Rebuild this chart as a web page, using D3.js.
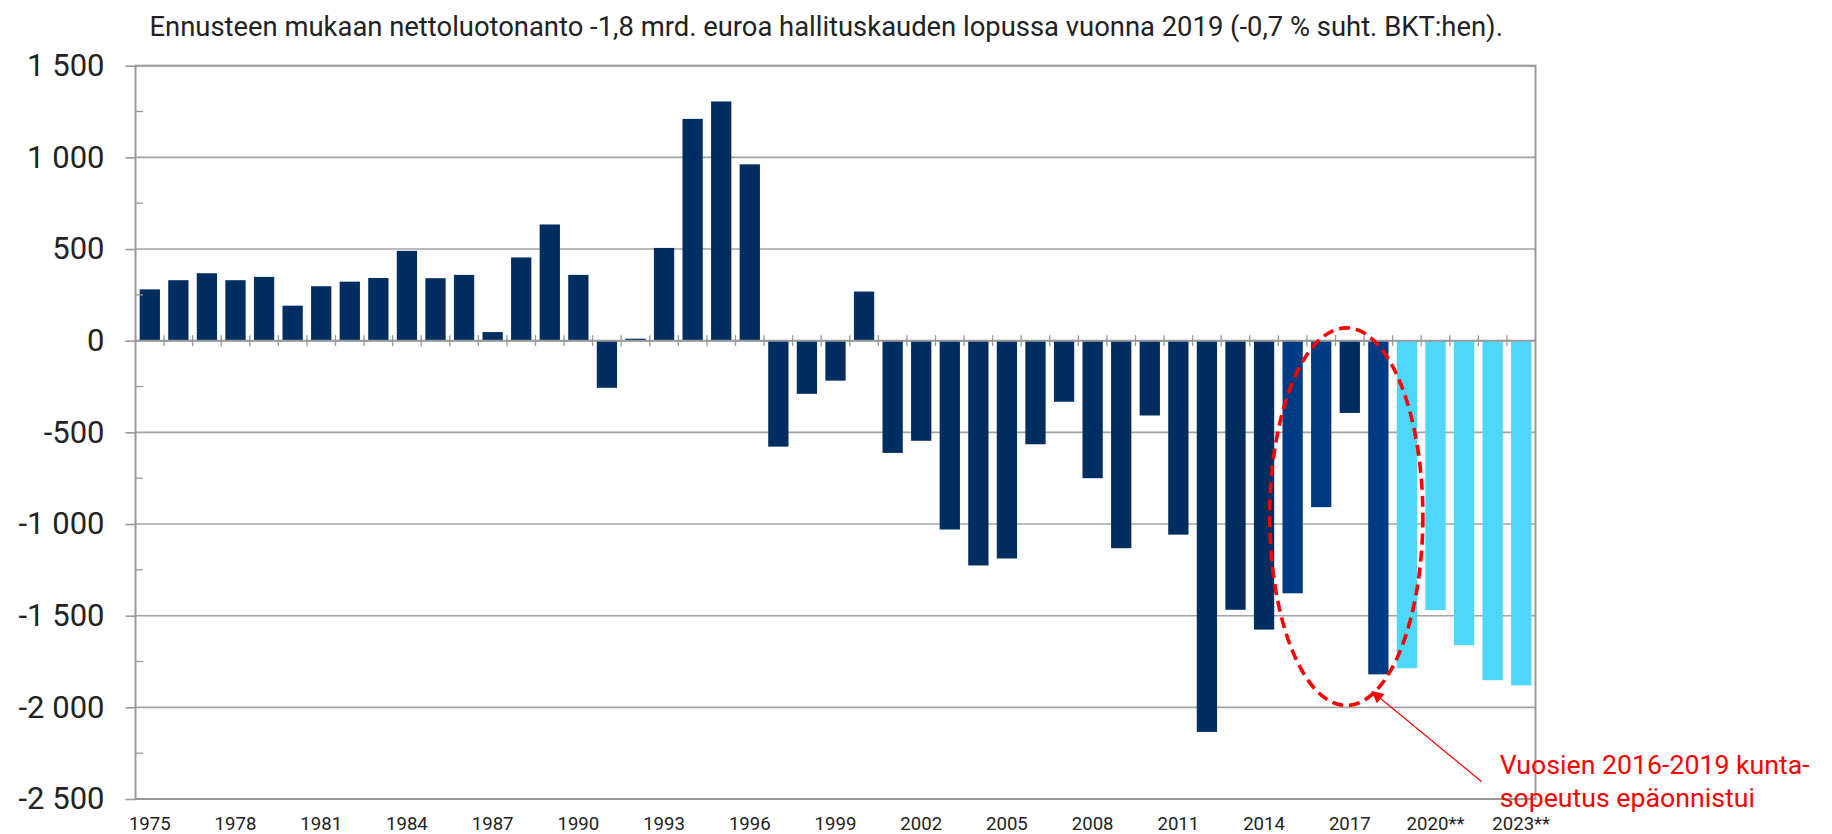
<!DOCTYPE html>
<html>
<head>
<meta charset="utf-8">
<script src="https://cdn.jsdelivr.net/npm/d3@7"></script>
<style>
    body { margin: 0; background: #fff; }
    text { font-family: Roboto, "Noto Sans", sans-serif; }
</style>
</head>
<body>
<script>

const years = [
    '1975', '1976', '1977', '1978', '1979', '1980', '1981', '1982', '1983', '1984',
    '1985', '1986', '1987', '1988', '1989', '1990', '1991', '1992', '1993', '1994',
    '1995', '1996', '1997', '1998', '1999', '2000', '2001', '2002', '2003', '2004',
    '2005', '2006', '2007', '2008', '2009', '2010', '2011', '2012', '2013', '2014',
    '2015', '2016', '2017', '2018', '2019', '2020', '2021', '2022', '2023'
];

// nettoluotonanto, milj. euroa
const values = [
    280, 330, 368, 330, 348, 191, 297, 322, 342, 490,
    341, 359, 47, 454, 634, 359, -257, 11, 506, 1210,
    1305, 962, -578, -290, -218, 268, -612, -546, -1030, -1226,
    -1188, -565, -333, -750, -1132, -408, -1058, -2134, -1468, -1576,
    -1378, -908, -394, -1820, -1787, -1470, -1661, -1852, -1880
];

const highlighted = ['2015', '2016', '2018'];
const forecast = ['2019', '2020', '2021', '2022', '2023'];

const yTicks = [1500, 1000, 500, 0, -500, -1000, -1500, -2000, -2500];
const yMinorTicks = [1250, 750, 250, -250, -750, -1250, -1750, -2250];

const xTickYears = ['1975', '1978', '1981', '1984', '1987', '1990', '1993', '1996',
    '1999', '2002', '2005', '2008', '2011', '2014', '2017', '2020', '2023'];
const xTickLabels = ['1975', '1978', '1981', '1984', '1987', '1990', '1993', '1996',
    '1999', '2002', '2005', '2008', '2011', '2014', '2017', '2020**', '2023**'];

const title = 'Ennusteen mukaan nettoluotonanto -1,8 mrd. euroa hallituskauden lopussa vuonna 2019 (-0,7 % suht. BKT:hen).';
const note = ['Vuosien 2016-2019 kunta-', 'sopeutus epäonnistui'];

const width = 1832, height = 834;
const plotLeft = 135.5, plotRight = 1535.5, plotTop = 65.7, plotBottom = 799;
const gridColor = '#a3a3a3';

const svg = d3.select('body').append('svg')
    .attr('width', width)
    .attr('height', height);

const x = d3.scaleBand()
    .domain(years)
    .range([plotLeft, plotRight])
    .paddingInner(0.29)
    .paddingOuter(0.145);

const y = d3.scaleLinear()
    .domain([-2500, 1500])
    .range([plotBottom, plotTop]);

const fi = d3.formatLocale({decimal: ',', thousands: ' ', grouping: [3], currency: ['', ''], minus: '-'});
const fmt = fi.format(',d');

// title
svg.append('text')
    .attr('x', 149.5)
    .attr('y', 36)
    .attr('font-size', 27.4)
    .attr('fill', '#222')
    .text(title);

// gridlines
svg.append('g')
    .selectAll('line')
    .data(yTicks)
    .enter()
    .append('line')
    .attr('x1', plotLeft)
    .attr('x2', plotRight)
    .attr('y1', d => y(d))
    .attr('y2', d => y(d))
    .attr('stroke', gridColor)
    .attr('stroke-width', 1.6);

// bars
svg.append('g')
    .selectAll('rect')
    .data(years)
    .enter()
    .append('rect')
    .attr('x', d => x(d))
    .attr('width', x.bandwidth())
    .attr('y', (d, i) => y(Math.max(0, values[i])))
    .attr('height', (d, i) => Math.abs(y(values[i]) - y(0)))
    .attr('fill', d => {
        if (forecast.includes(d)) {
            return '#4fd6fc';
        } else if (highlighted.includes(d)) {
            return '#003b83';
        }
        return '#002e61';
    });

// zero line with category ticks
svg.append('line')
    .attr('x1', plotLeft)
    .attr('x2', plotRight)
    .attr('y1', y(0))
    .attr('y2', y(0))
    .attr('stroke', '#999')
    .attr('stroke-width', 2);

svg.append('g')
    .selectAll('line')
    .data(years.slice(1))
    .enter()
    .append('line')
    .attr('x1', d => x(d) - (x.step() - x.bandwidth()) / 2)
    .attr('x2', d => x(d) - (x.step() - x.bandwidth()) / 2)
    .attr('y1', y(0) - 5.5)
    .attr('y2', y(0) + 5.5)
    .attr('stroke', '#999')
    .attr('stroke-width', 1.3);

// frame
svg.append('rect')
    .attr('x', plotLeft)
    .attr('y', plotTop)
    .attr('width', plotRight - plotLeft)
    .attr('height', plotBottom - plotTop)
    .attr('fill', 'none')
    .attr('stroke', '#999')
    .attr('stroke-width', 2);

// y axis
const yAxis = svg.append('g')
    .attr('transform', `translate(${plotLeft},0)`)
    .call(d3.axisLeft(y).tickValues(yTicks).tickSize(10).tickPadding(21).tickFormat(fmt));
yAxis.select('.domain').remove();
yAxis.selectAll('line').attr('stroke', '#999').attr('stroke-width', 1.6);
yAxis.selectAll('text')
    .attr('font-size', 31)
    .attr('font-family', 'Roboto')
    .attr('fill', '#222');

svg.append('g')
    .selectAll('line')
    .data(yMinorTicks)
    .enter()
    .append('line')
    .attr('x1', plotLeft)
    .attr('x2', plotLeft + 7.5)
    .attr('y1', d => y(d))
    .attr('y2', d => y(d))
    .attr('stroke', '#999')
    .attr('stroke-width', 1.3);

// x axis labels
const xAxis = svg.append('g')
    .attr('transform', `translate(0,${plotBottom})`)
    .call(d3.axisBottom(x).tickValues(xTickYears).tickSize(0).tickPadding(17.4)
        .tickFormat(d => xTickLabels[xTickYears.indexOf(d)]));
xAxis.select('.domain').remove();
xAxis.selectAll('text')
    .attr('font-size', 18.6)
    .attr('font-family', 'Roboto')
    .attr('fill', '#222');

// annotation: dashed ellipse round 2016-2018 and arrow
const cx = x('2017') + x.bandwidth() / 2 - 3.5;
const ellTop = y(70), ellBottom = y(-1990);

svg.append('ellipse')
    .attr('cx', cx)
    .attr('cy', (ellTop + ellBottom) / 2)
    .attr('rx', x.step() * 2.68)
    .attr('ry', (ellBottom - ellTop) / 2)
    .attr('fill', 'none')
    .attr('stroke', '#ff0000')
    .attr('stroke-width', 3.6)
    .attr('stroke-dasharray', '11 6');

svg.append('defs')
    .append('marker')
    .attr('id', 'arrow')
    .attr('viewBox', '0 0 10 10')
    .attr('refX', 9)
    .attr('refY', 5)
    .attr('markerWidth', 14)
    .attr('markerHeight', 12)
    .attr('markerUnits', 'userSpaceOnUse')
    .attr('orient', 'auto')
    .append('path')
    .attr('d', 'M0,0 L10,5 L0,10 Z')
    .attr('fill', '#ff0000');

svg.append('line')
    .attr('x1', 1481.7)
    .attr('y1', 781.7)
    .attr('x2', x('2018') + x.bandwidth() / 2 - 6)
    .attr('y2', y(-1915))
    .attr('stroke', '#ff0000')
    .attr('stroke-width', 1.2)
    .attr('marker-end', 'url(#arrow)');

svg.append('g')
    .selectAll('text')
    .data(note)
    .enter()
    .append('text')
    .attr('x', 1499.7)
    .attr('y', (d, i) => 773.5 + i * 33.3)
    .attr('font-size', 26.7)
    .attr('fill', '#ff0000')
    .text(d => d);

</script>
</body>
</html>
